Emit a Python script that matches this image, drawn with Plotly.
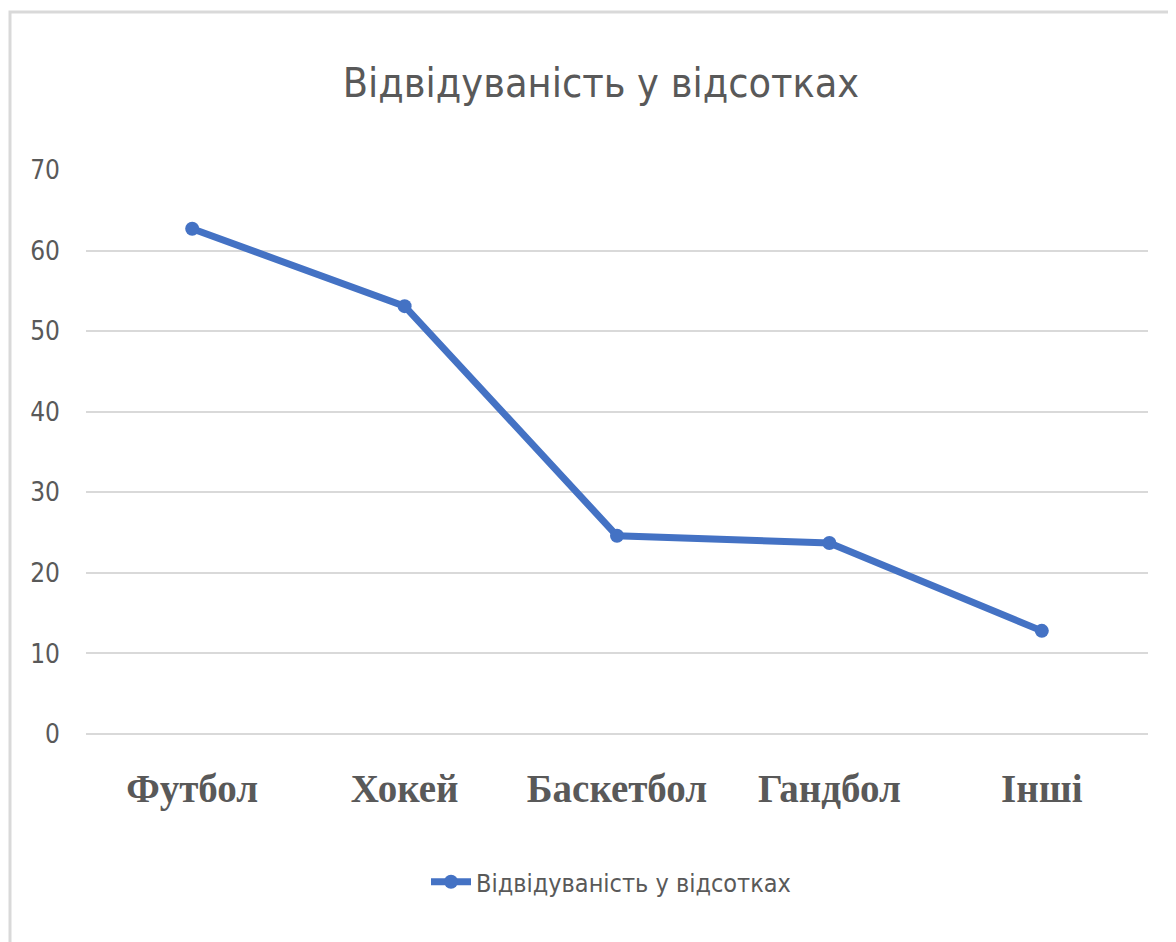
import plotly.graph_objects as go

categories = ["Футбол", "Хокей", "Баскетбол", "Гандбол", "Інші"]
values = [62.7, 53.1, 24.6, 23.7, 12.8]
series_name = "Відвідуваність у відсотках"
title_text = "Відвідуваність у відсотках"
y_ticks = [0, 10, 20, 30, 40, 50, 60, 70]

OFF = 8  # page body margin
W, H = 1176, 942
L, R, T, B = 86 - OFF, 36, 170 - OFF, 216
pw, ph = W - L - R, H - T - B

SANS = "DejaVu Sans Condensed, Liberation Sans Narrow, Arial Narrow, Roboto Condensed, Roboto"

def px_to_paper_x(x):
    return (x - OFF - L) / pw

def px_to_paper_y(y):
    return (OFF + H - B - y) / ph

fig = go.Figure()
fig.add_trace(go.Scatter(
    x=categories, y=values, name=series_name, mode="lines+markers",
    line=dict(color="#4472C4", width=7),
    marker=dict(color="#4472C4", size=14, symbol="circle"),
    showlegend=True,
))

fig.update_layout(
    width=W, height=H,
    margin=dict(l=L, r=R, t=T, b=B),
    paper_bgcolor="white", plot_bgcolor="white",
    title=dict(text=title_text, x=(601 - OFF) / W, xanchor="center",
               y=1 - (83 - OFF) / H, yanchor="middle",
               font=dict(family=SANS, size=41, color="#595959")),
    xaxis=dict(
        type="category", range=[-0.5, len(categories) - 0.5],
        showgrid=False, zeroline=False, showline=False,
        tickfont=dict(family="Liberation Serif", size=39, color="#595959", weight="bold"),
        ticklabelstandoff=28,
    ),
    yaxis=dict(
        range=[0, 70], tickvals=y_ticks, showgrid=True, gridcolor="#d9d9d9", gridwidth=2,
        zeroline=True, zerolinecolor="#d9d9d9", zerolinewidth=2, showline=False,
        tickfont=dict(family=SANS, size=26, color="#595959"),
        ticklabelstandoff=25,
    ),
    legend=dict(orientation="h", x=px_to_paper_x(611), xanchor="center",
                y=px_to_paper_y(882), yanchor="middle",
                font=dict(family=SANS, size=25, color="#595959"),
                itemwidth=40),
    shapes=[dict(type="rect", xref="paper", yref="paper",
                 x0=px_to_paper_x(10), x1=px_to_paper_x(1200),
                 y0=px_to_paper_y(980), y1=px_to_paper_y(12),
                 line=dict(color="#d9d9d9", width=3), fillcolor="rgba(0,0,0,0)", layer="below")],
)

fig.write_html("out.html")
